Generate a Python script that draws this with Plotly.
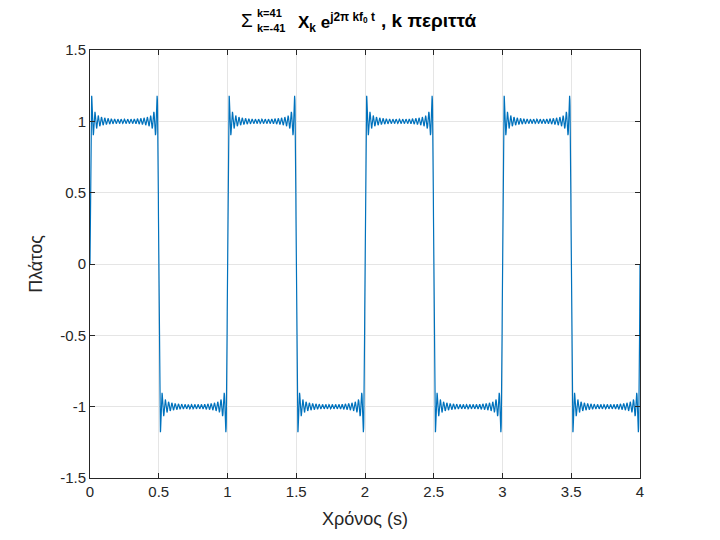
import numpy as np
import plotly.graph_objects as go

# Odd harmonic orders used in the synthesis (k = ±1, ±3, ..., ±41)
harmonic_orders = [1, 3, 5, 7, 9, 11, 13, 15, 17, 19, 21, 23, 25, 27, 29, 31, 33, 35, 37, 39, 41]
f0 = 1.0          # fundamental frequency (Hz)
t_start, t_stop, t_step = 0.0, 4.0, 0.001
x_ticks = [0, 0.5, 1, 1.5, 2, 2.5, 3, 3.5, 4]
y_ticks = [-1.5, -1, -0.5, 0, 0.5, 1, 1.5]

t = np.arange(t_start, t_stop + t_step / 2, t_step)
x = np.zeros_like(t, dtype=complex)
for k in harmonic_orders:
    Xk = 2 / (1j * np.pi * k)          # square wave coefficient
    x += Xk * np.exp(1j * 2 * np.pi * k * f0 * t)
    x += np.conj(Xk) * np.exp(-1j * 2 * np.pi * k * f0 * t)
x = x.real

W, H = 720, 540
OFF = 8  # page body margin
L, R, T, B = 90 - OFF, 80 + OFF, 50 - OFF, 62 + OFF
pw, ph = W - L - R, H - T - B

def px(xp):
    return (xp - OFF - L) / pw

def py(yp):
    return (H - B - (yp - OFF)) / ph

axis_col = "#262626"
font = "Liberation Sans, Arial, sans-serif"

fig = go.Figure()
fig.add_trace(go.Scatter(x=t, y=x, mode="lines",
                         line=dict(color="#0072BD", width=1.2),
                         showlegend=False, hoverinfo="skip"))

common = dict(showgrid=True, gridcolor="#e5e5e5", gridwidth=1,
              showline=True, linecolor=axis_col, linewidth=1, mirror="ticks",
              ticks="inside", ticklen=5, tickcolor=axis_col,
              tickfont=dict(family=font, size=15, color=axis_col),
              zeroline=False)

fig.update_xaxes(range=[0, 4], tickvals=x_ticks, ticktext=[f"{v:g}" for v in x_ticks],
                 title=dict(text="Χρόνος (s)", font=dict(family=font, size=18, color=axis_col), standoff=13),
                 **common)
fig.update_yaxes(range=[-1.5, 1.5], tickvals=y_ticks, ticktext=[f"{v:g}" for v in y_ticks],
                 title=dict(text="Πλάτος", font=dict(family=font, size=18, color=axis_col), standoff=12),
                 **common)

ann = []
tf = dict(family=font, color="#000000")
def add(text, xp, yp, size):
    ann.append(dict(text=text, x=px(xp), y=py(yp), xref="paper", yref="paper",
                    xanchor="left", yanchor="middle", showarrow=False,
                    font=dict(size=size, **tf)))

add("Σ", 239, 21, 19)
add("<b>k=41</b>", 255, 13, 11)
add("<b>k=-41</b>", 255, 28, 11)
add("<b>X<sub>k</sub> e<sup>j2π kf<sub>0</sub> t</sup></b>", 296, 22, 17)
add("<b>, k περιττά</b>", 379, 21, 19)

fig.update_layout(width=W, height=H, margin=dict(l=L, r=R, t=T, b=B),
                  paper_bgcolor="white", plot_bgcolor="white",
                  annotations=ann, font=dict(family=font))

fig.write_html("out.html")
